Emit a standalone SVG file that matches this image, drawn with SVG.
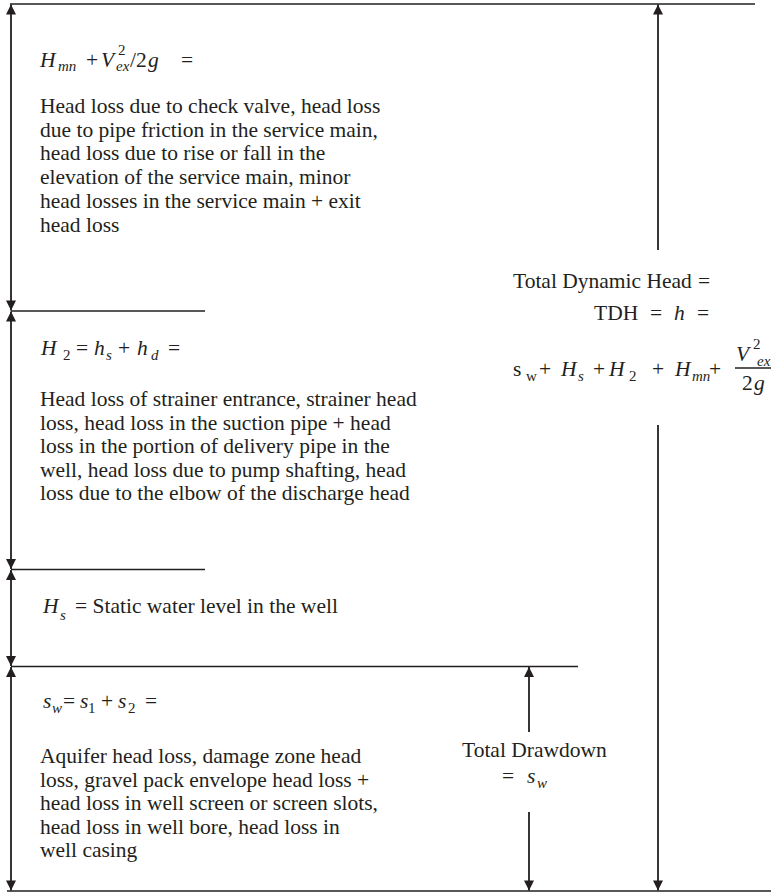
<svg xmlns="http://www.w3.org/2000/svg" width="771" height="894" viewBox="0 0 771 894">
<style>
text{font-family:"Liberation Serif","Times New Roman",serif;font-size:21.5px;fill:#231f20}
.i{font-style:italic}
.s{font-size:15px}
.dim{stroke:#231f20;stroke-width:1.8;fill:none}
.ln{stroke:#231f20;stroke-width:1.3;fill:none}
</style>
<defs>
<marker id="ah" viewBox="0 0 10 10" refX="10" refY="5" markerWidth="11" markerHeight="10" markerUnits="userSpaceOnUse" orient="auto-start-reverse">
<path d="M0,0 L10,5 L0,10 z" fill="#231f20"/>
</marker>
</defs>
<g id="connectors">
<line class="ln" x1="10" y1="4" x2="755" y2="4"/>
<line class="ln" x1="11" y1="311" x2="205" y2="311"/>
<line class="ln" x1="11" y1="569.5" x2="205" y2="569.5"/>
<line class="ln" x1="11" y1="666.5" x2="578" y2="666.5"/>
<line class="ln" x1="7" y1="891" x2="771" y2="891"/>
<line class="dim" x1="11" y1="4.5" x2="11" y2="310.5" marker-start="url(#ah)" marker-end="url(#ah)"/>
<line class="dim" x1="11" y1="311.5" x2="11" y2="569" marker-start="url(#ah)" marker-end="url(#ah)"/>
<line class="dim" x1="11" y1="570" x2="11" y2="666" marker-start="url(#ah)" marker-end="url(#ah)"/>
<line class="dim" x1="11" y1="667" x2="11" y2="890.5" marker-start="url(#ah)" marker-end="url(#ah)"/>
<line class="dim" x1="658" y1="250" x2="658" y2="4.5" marker-end="url(#ah)"/>
<line class="dim" x1="658" y1="425" x2="658" y2="890.5" marker-end="url(#ah)"/>
<line class="dim" x1="529" y1="732" x2="529" y2="667" marker-end="url(#ah)"/>
<line class="dim" x1="529" y1="812" x2="529" y2="890.5" marker-end="url(#ah)"/>
</g>
<g id="service-main">
<text><tspan class="i" x="40" y="67">H</tspan><tspan class="i s" x="58" y="71">mn</tspan><tspan x="86" y="67">+</tspan><tspan class="i" x="101" y="67">V</tspan><tspan class="s" x="118" y="55">2</tspan><tspan class="i s" x="116" y="71">ex</tspan><tspan x="130" y="67">/2</tspan><tspan class="i" x="148" y="67">g</tspan><tspan x="181" y="67">=</tspan></text>
<text x="40" y="113">Head loss due to check valve, head loss</text>
<text x="40" y="136.7">due to pipe friction in the service main,</text>
<text x="40" y="160.4">head loss due to rise or fall in the</text>
<text x="40" y="184.1">elevation of the service main, minor</text>
<text x="40" y="207.8">head losses in the service main + exit</text>
<text x="40" y="231.5">head loss</text>
</g>
<g id="pump-column">
<text><tspan class="i" x="41" y="355">H</tspan><tspan class="s" x="63" y="360">2</tspan><tspan x="76" y="355">=</tspan><tspan class="i" x="94" y="355">h</tspan><tspan class="i s" x="106" y="360">s</tspan><tspan x="118" y="355">+</tspan><tspan class="i" x="137" y="355">h</tspan><tspan class="i s" x="151" y="360">d</tspan><tspan x="168" y="355">=</tspan></text>
<text x="40" y="406">Head loss of strainer entrance, strainer head</text>
<text x="40" y="429.6">loss, head loss in the suction pipe + head</text>
<text x="40" y="453.2">loss in the portion of delivery pipe in the</text>
<text x="40" y="476.8">well, head loss due to pump shafting, head</text>
<text x="40" y="500.4">loss due to the elbow of the discharge head</text>
</g>
<g id="static-level">
<text><tspan class="i" x="43" y="613">H</tspan><tspan class="i s" x="60" y="620">s</tspan><tspan x="75" y="613">= Static water level in the well</tspan></text>
</g>
<g id="drawdown-losses">
<text><tspan class="i" x="43" y="708">s</tspan><tspan class="i s" x="52" y="713">w</tspan><tspan x="63" y="708">=</tspan><tspan class="i" x="80" y="708">s</tspan><tspan class="s" x="88" y="713">1</tspan><tspan x="101" y="708">+</tspan><tspan class="i" x="118" y="708">s</tspan><tspan class="s" x="128" y="713">2</tspan><tspan x="145" y="708">=</tspan></text>
<text x="40" y="763">Aquifer head loss, damage zone head</text>
<text x="40" y="786.6">loss, gravel pack envelope head loss +</text>
<text x="40" y="810.2">head loss in well screen or screen slots,</text>
<text x="40" y="833.8">head loss in well bore, head loss in</text>
<text x="40" y="857.4">well casing</text>
</g>
<g id="total-drawdown">
<text x="462" y="757">Total Drawdown</text>
<text><tspan x="502" y="783">=</tspan><tspan class="i" x="527" y="783">s</tspan><tspan class="i s" x="537" y="788">w</tspan></text>
</g>
<g id="total-dynamic-head">
<text><tspan x="513" y="288">Total Dynamic Head</tspan><tspan x="698" y="288">=</tspan></text>
<text><tspan x="594" y="320">TDH</tspan><tspan x="650" y="320">=</tspan><tspan class="i" x="674" y="320">h</tspan><tspan x="697" y="320">=</tspan></text>
<text><tspan x="513" y="376">s</tspan><tspan class="s" x="526" y="381">w</tspan><tspan x="539" y="376">+</tspan><tspan class="i" x="561" y="376">H</tspan><tspan class="i s" x="578" y="381">s</tspan><tspan x="593" y="376">+</tspan><tspan class="i" x="609" y="376">H</tspan><tspan class="s" x="629" y="381">2</tspan><tspan x="652" y="376">+</tspan><tspan class="i" x="675" y="376">H</tspan><tspan class="i s" x="692" y="381">mn</tspan><tspan x="709" y="376">+</tspan></text>
<text><tspan class="i" x="736" y="361">V</tspan><tspan class="s" x="753" y="349">2</tspan><tspan class="i s" x="757" y="366">ex</tspan></text>
<line class="ln" x1="735" y1="368" x2="771" y2="368"/>
<text><tspan x="742" y="390">2</tspan><tspan class="i" x="754" y="390">g</tspan></text>
</g>
</svg>
